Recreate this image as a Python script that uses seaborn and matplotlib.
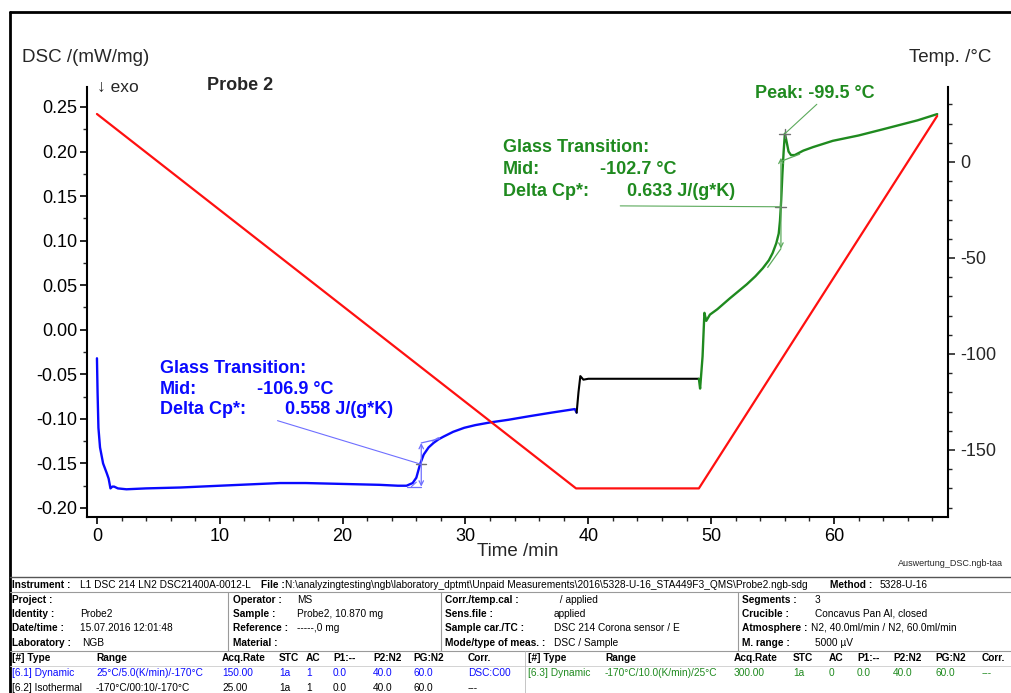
import numpy as np
import pandas as pd
import matplotlib
matplotlib.use("Agg")
import matplotlib.pyplot as plt
from matplotlib.lines import Line2D
from matplotlib.ticker import MultipleLocator
import seaborn as sns

# ---------------- data ----------------
time_cool = [0.0, 0.05, 0.12, 0.25, 0.5, 0.8, 0.95, 1.1, 1.25, 1.4, 1.7, 2.4, 4.0, 6.8,
             10.0, 14.9, 17.0, 20.0, 23.0, 24.5, 25.2, 25.7, 26.0, 26.3, 26.6, 27.0,
             27.4, 27.8, 28.2, 29.0, 29.9, 30.8, 32.0, 33.5, 35.2, 37.0, 38.9, 39.05]
dsc_cool = [-0.032, -0.070, -0.110, -0.132, -0.150, -0.161, -0.167, -0.178, -0.176,
            -0.176, -0.178, -0.179, -0.178, -0.177, -0.175, -0.172, -0.172, -0.173,
            -0.174, -0.175, -0.175, -0.172, -0.166, -0.151, -0.140, -0.132, -0.127,
            -0.123, -0.120, -0.1145, -0.110, -0.107, -0.104, -0.101, -0.097, -0.093,
            -0.089, -0.093]

time_iso = [39.05, 39.2, 39.35, 39.6, 40.0, 45.0, 48.9, 49.0]
dsc_iso = [-0.093, -0.070, -0.052, -0.056, -0.055, -0.055, -0.055, -0.055]

time_heat = [49.0, 49.1, 49.3, 49.45, 49.6, 49.9, 50.5, 51.0, 51.5, 52.2, 52.9, 53.6,
             54.2, 54.7, 55.0, 55.3, 55.5, 55.6, 55.7, 55.8, 55.9, 56.0, 56.1, 56.3,
             56.5, 56.8, 57.5, 58.3, 59.9, 62.0, 64.0, 66.8, 68.4]
dsc_heat = [-0.055, -0.066, -0.030, 0.019, 0.010, 0.017, 0.023, 0.029, 0.035, 0.043,
            0.051, 0.060, 0.069, 0.078, 0.086, 0.097, 0.108, 0.122, 0.145, 0.175,
            0.200, 0.220, 0.214, 0.200, 0.196, 0.196, 0.201, 0.205, 0.212, 0.218,
            0.225, 0.235, 0.242]

time_temp = [0.0, 39.0, 49.0, 68.4]
temp_prog = [25.0, -170.0, -170.0, 24.0]

x_ticks = [0, 10, 20, 30, 40, 50, 60]
dsc_ticks = [-0.20, -0.15, -0.10, -0.05, 0.00, 0.05, 0.10, 0.15, 0.20, 0.25]
temp_ticks = [-150, -100, -50, 0]

# glass transition evaluations
gt1_time, gt1_lo, gt1_hi, gt1_mid = 26.4, -0.176, -0.127, -0.151
gt2_time, gt2_lo, gt2_hi, gt2_mid = 55.68, 0.091, 0.193, 0.138
peak_time, peak_val = 56.0, 0.220

# ---------------- figure ----------------
sns.set_style("ticks")
plt.rcParams['font.family'] = ['Liberation Sans', 'DejaVu Sans']
plt.rcParams['axes.unicode_minus'] = False

W, H = 1011, 693
fig = plt.figure(figsize=(W / 100, H / 100), dpi=100)
fig.patch.set_facecolor("white")


def fx(x):
    return x / W


def fy(y):
    return 1 - y / H


ax = fig.add_axes([fx(87), fy(517), fx(948) - fx(87), fy(87) - fy(517)])
ax2 = ax.twinx()

BLUE = "#0a0aff"
GREEN = "#1f8a1f"
RED = "#ff1010"

df_cool = pd.DataFrame({"t": time_cool, "v": dsc_cool})
df_iso = pd.DataFrame({"t": time_iso, "v": dsc_iso})
df_heat = pd.DataFrame({"t": time_heat, "v": dsc_heat})
df_temp = pd.DataFrame({"t": time_temp, "T": temp_prog})

sns.lineplot(data=df_cool, x="t", y="v", ax=ax, color=BLUE, lw=1.7, sort=False, estimator=None)
sns.lineplot(data=df_iso, x="t", y="v", ax=ax, color="black", lw=1.5, sort=False, estimator=None)
sns.lineplot(data=df_heat, x="t", y="v", ax=ax, color=GREEN, lw=1.7, sort=False, estimator=None)
sns.lineplot(data=df_temp, x="t", y="T", ax=ax2, color=RED, lw=1.6, sort=False, estimator=None)

ax.set_xlim(-0.81, 69.28)
ax.set_ylim(-0.2101, 0.2724)
ax2.set_ylim(-184.9, 39.06)

ax.set_xticks(x_ticks)
ax.set_yticks(dsc_ticks)
ax.set_yticklabels([f"{v:.2f}" for v in dsc_ticks])
ax2.set_yticks(temp_ticks)
ax.xaxis.set_minor_locator(MultipleLocator(2))
ax.yaxis.set_minor_locator(MultipleLocator(0.025))
ax2.yaxis.set_minor_locator(MultipleLocator(10))

ax.set_xlabel("")
ax.set_ylabel("")
ax2.set_ylabel("")

for a in (ax, ax2):
    a.spines["top"].set_visible(False)
    for s in a.spines.values():
        s.set_linewidth(1.5)
        s.set_color("black")
ax.spines["right"].set_visible(False)
ax2.spines["left"].set_visible(False)
ax2.spines["bottom"].set_visible(False)

ax.tick_params(axis="both", which="major", length=5, width=1.2, labelsize=13, pad=2, colors="black")
ax.tick_params(axis="x", which="major", pad=3)
ax.tick_params(axis="both", which="minor", length=3, width=1.0)
ax2.tick_params(axis="y", which="major", length=5, width=1.2, labelsize=13, pad=4)
ax2.tick_params(axis="y", which="minor", length=3, width=1.0)
ax.patch.set_alpha(0)

# ---------- evaluation marks ----------
LBLUE = "#6f6fff"
LGREEN = "#5caa5c"
GRAY = "#707070"

# blue glass transition
ax.plot([25.2, gt1_time], [gt1_lo, gt1_lo], color=LBLUE, lw=0.9)
ax.plot([gt1_time, 27.9], [gt1_hi, -0.1222], color=LBLUE, lw=0.9)
ax.plot([25.6, 26.0], [gt1_lo, -0.171], color=LBLUE, lw=0.8)
ax.plot([27.3, 27.8], [-0.1250, -0.121], color=LBLUE, lw=0.8)
ax.annotate("", xy=(gt1_time, gt1_lo), xytext=(gt1_time, gt1_hi),
            arrowprops=dict(arrowstyle="<->", color=LBLUE, lw=0.9, shrinkA=0, shrinkB=0,
                            mutation_scale=8))
ax.plot([gt1_time - 0.4, gt1_time + 0.4], [gt1_mid, gt1_mid], color=GRAY, lw=1.0)
ax.plot([14.7, gt1_time], [-0.102, gt1_mid], color=LBLUE, lw=0.8)

# green glass transition
ax.plot([54.6, gt2_time], [0.070, gt2_lo], color=LGREEN, lw=0.9)
ax.plot([gt2_time, 57.2], [gt2_hi - 0.004, 0.197], color=LGREEN, lw=0.9)
ax.annotate("", xy=(gt2_time, gt2_lo), xytext=(gt2_time, gt2_hi),
            arrowprops=dict(arrowstyle="<->", color=LGREEN, lw=0.9, shrinkA=0, shrinkB=0,
                            mutation_scale=8))
ax.plot([gt2_time - 0.45, gt2_time + 0.45], [gt2_mid, gt2_mid], color=GRAY, lw=1.0)
ax.plot([42.6, gt2_time], [0.139, gt2_mid], color=LGREEN, lw=0.8)
# peak
ax.plot([peak_time - 0.45, peak_time + 0.45], [peak_val, peak_val], color=GRAY, lw=1.0)
ax.plot([peak_time, peak_time], [peak_val - 0.005, peak_val + 0.005], color=GRAY, lw=1.0)
ax.plot([peak_time, 58.6], [peak_val, 0.253], color=LGREEN, lw=0.8)

# ---------- chart texts ----------
fig.text(fx(22), fy(57), "DSC /(mW/mg)", fontsize=13.5, va="center", ha="left")
fig.text(fx(991), fy(57), "Temp. /°C", fontsize=13.5, va="center", ha="right")
fig.text(fx(97), fy(87), "↓ exo", fontsize=12.5, va="center", ha="left")
fig.text(fx(207), fy(85), "Probe 2", fontsize=13, fontweight="bold", va="center", ha="left")
fig.text(fx(518), fy(551), "Time /min", fontsize=13.5, va="center", ha="center")
fig.text(fx(1003), fy(563), "Auswertung_DSC.ngb-taa", fontsize=6.5, va="center", ha="right")

bk = dict(fontsize=13, fontweight="bold", va="center", ha="left")
fig.text(fx(160), fy(368), "Glass Transition:", color=BLUE, **bk)
fig.text(fx(160), fy(390), "Mid:", color=BLUE, **bk)
fig.text(fx(257), fy(390), "-106.9 °C", color=BLUE, **bk)
fig.text(fx(160), fy(410), "Delta Cp*:", color=BLUE, **bk)
fig.text(fx(285), fy(410), "0.558 J/(g*K)", color=BLUE, **bk)

fig.text(fx(503), fy(148), "Glass Transition:", color=GREEN, **bk)
fig.text(fx(503), fy(170), "Mid:", color=GREEN, **bk)
fig.text(fx(600), fy(170), "-102.7 °C", color=GREEN, **bk)
fig.text(fx(503), fy(192), "Delta Cp*:", color=GREEN, **bk)
fig.text(fx(627), fy(192), "0.633 J/(g*K)", color=GREEN, **bk)
fig.text(fx(755), fy(93), "Peak: -99.5 °C", color=GREEN, **bk)


# ---------- frame & info table ----------
def hline(y, x0, x1, color="#9a9a9a", lw=0.8):
    fig.add_artist(Line2D([fx(x0), fx(x1)], [fy(y), fy(y)], color=color, lw=lw,
                          transform=fig.transFigure))


def vline(x, y0, y1, color="#9a9a9a", lw=0.8):
    fig.add_artist(Line2D([fx(x), fx(x)], [fy(y0), fy(y1)], color=color, lw=lw,
                          transform=fig.transFigure))


hline(12, 10, 1011, color="black", lw=2)
vline(10, 12, 693, color="black", lw=2)
hline(577, 10, 1011, color="#555555", lw=1.0)
hline(592, 10, 1011)
hline(651, 10, 1011)
hline(666, 10, 1011, color="#cccccc", lw=0.6)
vline(228, 592, 651)
vline(441, 592, 651)
vline(738, 592, 651)
vline(525, 651, 693, color="#bbbbbb", lw=0.6)

TF = 7.3


def tt(x, y, s, bold=False, color="black"):
    fig.text(fx(x), fy(y), s, fontsize=TF, fontweight="bold" if bold else "normal",
             color=color, va="center", ha="left")


tt(12, 585, "Instrument :", True)
tt(80, 585, "L1 DSC 214 LN2 DSC21400A-0012-L")
tt(261, 585, "File :", True)
tt(285, 585, r"N:\analyzingtesting\ngb\laboratory_dptmt\Unpaid Measurements\2016\5328-U-16_STA449F3_QMS\Probe2.ngb-sdg")
tt(830, 585, "Method :", True)
tt(880, 585, "5328-U-16")

info_rows_y = [600, 614, 628, 643]
col1_labels = ["Project :", "Identity :", "Date/time :", "Laboratory :"]
col1_values = ["", "Probe2", "15.07.2016 12:01:48", "NGB"]
col2_labels = ["Operator :", "Sample :", "Reference :", "Material :"]
col2_values = ["MS", "Probe2, 10.870 mg", "-----,0 mg", ""]
col3_labels = ["Corr./temp.cal :", "Sens.file :", "Sample car./TC :", "Mode/type of meas. :"]
col3_values = ["  / applied", "applied", "DSC 214 Corona sensor / E", "DSC / Sample"]
col4_labels = ["Segments :", "Crucible :", "Atmosphere :", "M. range :"]
col4_values = ["3", "Concavus Pan Al, closed", "N2, 40.0ml/min / N2, 60.0ml/min", "5000 µV"]

for i, y in enumerate(info_rows_y):
    tt(12, y, col1_labels[i], True)
    tt(80 if i < 3 else 82, y, col1_values[i])
    tt(233, y, col2_labels[i], True)
    tt(297, y, col2_values[i])
    tt(445, y, col3_labels[i], True)
    tt(554, y, col3_values[i])
    tt(742, y, col4_labels[i], True)
    tt(815 if i != 2 else 811, y, col4_values[i])

seg_header = ["[#] Type", "Range", "Acq.Rate", "STC", "AC", "P1:--", "P2:N2", "PG:N2", "Corr."]
left_cols = [12, 96, 222, 279, 306, 333, 373, 413, 468]
right_cols = [528, 605, 734, 793, 829, 857, 893, 935, 982]
seg1 = ["[6.1] Dynamic", "25°C/5.0(K/min)/-170°C", "150.00", "1a", "1", "0.0", "40.0", "60.0", "DSC:C00"]
seg2 = ["[6.2] Isothermal", "-170°C/00:10/-170°C", "25.00", "1a", "1", "0.0", "40.0", "60.0", "---"]
seg3 = ["[6.3] Dynamic", "-170°C/10.0(K/min)/25°C", "300.00", "1a", "0", "0.0", "40.0", "60.0", "---"]

for h, xl, xr in zip(seg_header, left_cols, right_cols):
    tt(xl, 658, h, True)
    tt(xr, 658, h, True)
for s, xl in zip(seg1, left_cols):
    tt(xl, 673, s, color=BLUE)
for s, xl in zip(seg2, left_cols):
    tt(xl, 688, s)
for s, xr in zip(seg3, right_cols):
    tt(xr, 673, s, color=GREEN)

fig.savefig("out.png", dpi=100, facecolor="white")
